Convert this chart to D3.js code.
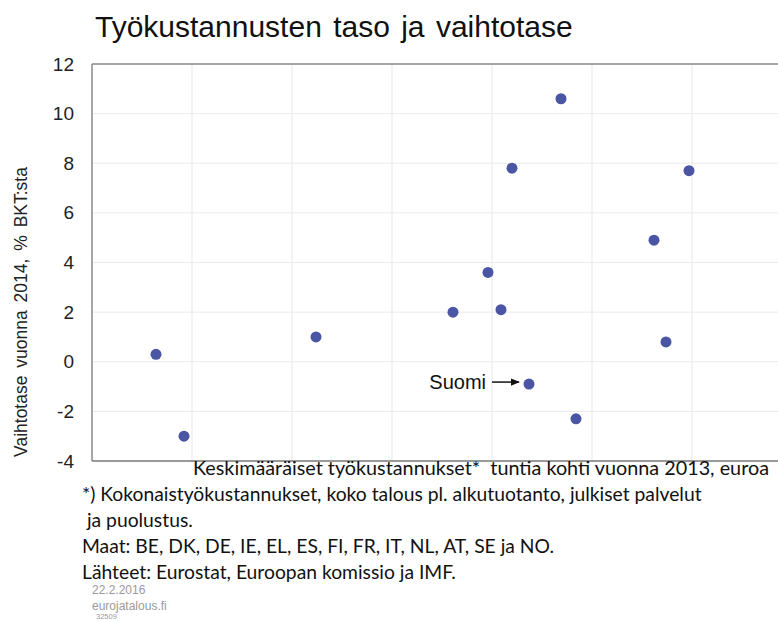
<!DOCTYPE html>
<html>
<head>
<meta charset="utf-8">
<script src="https://cdn.jsdelivr.net/npm/d3@7"></script>
<style>
  body { margin: 0; background: #fff; }
  svg { display: block; }
  text { white-space: pre; }
</style>
</head>
<body>
<div id="chart"></div>
<script>
// labour cost per hour 2013 (eur) and current account 2014 (% of GDP)
var laborCost = [13.2, 14.6, 21.2, 28.05, 29.8, 30.45, 31.0, 31.85, 33.45, 34.2, 38.1, 38.7, 39.85];
var currentAccount = [0.3, -3.0, 1.0, 2.0, 3.6, 2.1, 7.8, -0.9, 10.6, -2.3, 4.9, 0.8, 7.7];
var pointLabels = ["", "", "", "", "", "", "", "Suomi", "", "", "", "", ""];

var xTicks = [10, 15, 20, 25, 30, 35, 40, 45];
var yTicks = [-4, -2, 0, 2, 4, 6, 8, 10, 12];

var titleText = "Työkustannusten taso ja vaihtotase";
var yLabel = "Vaihtotase vuonna 2014, % BKT:sta";
var xLabel = "Keskimääräiset työkustannukset*  tuntia kohti vuonna 2013, euroa";
var footLines = [
  "*) Kokonaistyökustannukset, koko talous pl. alkutuotanto, julkiset palvelut",
  " ja puolustus.",
  "Maat: BE, DK, DE, IE, EL, ES, FI, FR, IT, NL, AT, SE ja NO.",
  "Lähteet: Eurostat, Euroopan komissio ja IMF."
];
var stampLines = ["22.2.2016", "eurojatalous.fi", "32509"];

var width = 778, height = 621;
var plotLeft = 92, plotRight = 792, plotTop = 64, plotBottom = 461;
var dotColor = "#4a55a4";

var xScale = d3.scaleLinear().domain([10, 45]).range([plotLeft, plotRight]);
var yScale = d3.scaleLinear().domain([-4, 12]).range([plotBottom, plotTop]);

var svg = d3.select("#chart").append("svg")
  .attr("width", width)
  .attr("height", height);

// title
svg.append("text")
  .attr("x", 95)
  .attr("y", 37)
  .text(titleText)
  .style("font-family", "Liberation Sans, Arial, sans-serif")
  .style("font-size", 30)
  .style("word-spacing", 3)
  .attr("fill", "#111");

// grid
svg.append("g").selectAll("line")
  .data(yTicks)
  .enter().append("line")
  .attr("x1", plotLeft)
  .attr("x2", plotRight)
  .attr("y1", function(d) { return yScale(d); })
  .attr("y2", function(d) { return yScale(d); })
  .attr("stroke", "#ebebeb")
  .attr("stroke-width", 1);

svg.append("g").selectAll("line")
  .data(xTicks)
  .enter().append("line")
  .attr("x1", function(d) { return xScale(d); })
  .attr("x2", function(d) { return xScale(d); })
  .attr("y1", plotTop)
  .attr("y2", plotBottom)
  .attr("stroke", "#ebebeb")
  .attr("stroke-width", 1.2);

// plot border
svg.append("line")
  .attr("x1", plotLeft).attr("x2", plotRight)
  .attr("y1", plotTop).attr("y2", plotTop)
  .attr("stroke", "#a6a6a6").attr("stroke-width", 2);
svg.append("line")
  .attr("x1", plotLeft).attr("x2", plotLeft)
  .attr("y1", plotTop).attr("y2", plotBottom)
  .attr("stroke", "#8c8c8c").attr("stroke-width", 1.5);
svg.append("line")
  .attr("x1", plotLeft).attr("x2", plotRight)
  .attr("y1", plotBottom).attr("y2", plotBottom)
  .attr("stroke", "#7a7a7a").attr("stroke-width", 1.5);

// y axis
var yAxis = svg.append("g")
  .attr("transform", "translate(" + plotLeft + ",0)")
  .call(d3.axisLeft(yScale).tickValues(yTicks).tickSize(0).tickPadding(18)
    .tickFormat(function(d) { return String(d); }));
yAxis.select(".domain").remove();
yAxis.selectAll("text")
  .style("font-family", "Liberation Sans, Arial, sans-serif")
  .style("font-size", 19)
  .attr("fill", "#222");

svg.append("text")
  .text(yLabel)
  .attr("transform", "translate(27," + 312 + ") rotate(-90)")
  .attr("text-anchor", "middle")
  .style("font-family", "Liberation Sans, Arial, sans-serif")
  .style("font-size", 17.5)
  .style("word-spacing", 3)
  .attr("fill", "#222");

// points
svg.append("g").selectAll("circle")
  .data(laborCost)
  .enter().append("circle")
  .attr("cx", function(d) { return xScale(d); })
  .attr("cy", function(d, i) { return yScale(currentAccount[i]); })
  .attr("r", 5.5)
  .attr("fill", dotColor);

// Suomi annotation
svg.append("defs").append("marker")
  .attr("id", "arrow")
  .attr("viewBox", "0 0 10 10")
  .attr("refX", 9).attr("refY", 5)
  .attr("markerWidth", 6).attr("markerHeight", 6)
  .attr("orient", "auto")
  .append("path")
  .attr("d", "M0,1 L10,5 L0,9 Z")
  .attr("fill", "#111");

pointLabels.forEach(function(d, i) {
  if (!d) return;
  var px = xScale(laborCost[i]), py = yScale(currentAccount[i]);
  svg.append("line")
    .attr("x1", px - 37).attr("x2", px - 10)
    .attr("y1", py - 2).attr("y2", py - 2)
    .attr("stroke", "#111").attr("stroke-width", 1.5)
    .attr("marker-end", "url(#arrow)");
  svg.append("text")
    .attr("x", px - 43)
    .attr("y", py + 5)
    .attr("text-anchor", "end")
    .text(d)
    .style("font-family", "Liberation Sans, Arial, sans-serif")
    .style("font-size", 20)
    .attr("fill", "#111");
});

// x label and footnotes
svg.append("text")
  .attr("x", 193)
  .attr("y", 475)
  .text(xLabel)
  .style("font-family", "Lato, sans-serif")
  .style("font-size", 19.8)
  .attr("fill", "#111");

footLines.forEach(function(d, i) {
  svg.append("text")
    .attr("x", 82)
    .attr("y", 501 + i * 26)
    .text(d)
    .style("font-family", "Lato, sans-serif")
    .style("font-size", 19.3)
    .attr("fill", "#111");
});

var stampSizes = [12, 12, 7.5];
var stampY = [594, 610, 618.5];
stampLines.forEach(function(d, i) {
  svg.append("text")
    .attr("x", i == 2 ? 96 : 92)
    .attr("y", stampY[i])
    .text(d)
    .style("font-family", "Liberation Sans, Arial, sans-serif")
    .style("font-size", stampSizes[i])
    .attr("fill", "#9a9a9a");
});
</script>
</body>
</html>
